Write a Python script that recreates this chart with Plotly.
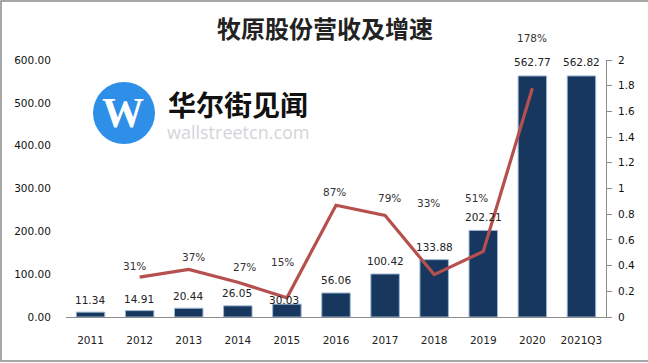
import plotly.graph_objects as go

categories = ["2011", "2012", "2013", "2014", "2015", "2016", "2017", "2018", "2019", "2020", "2021Q3"]
revenue = [11.34, 14.91, 20.44, 26.05, 30.03, 56.06, 100.42, 133.88, 202.21, 562.77, 562.82]
growth = [None, 0.31, 0.37, 0.27, 0.15, 0.87, 0.79, 0.33, 0.51, 1.78, None]
growth_labels = [None, "31%", "37%", "27%", "15%", "87%", "79%", "33%", "51%", "178%", None]

rev_label_dy = [12, 12, 12, 13, 4, 13, 13, 13, 13, 14, 14]
rev_label_dx = [-1, -1, -1, -1, -3, 0, 0, 0, 0, 0, 0]
growth_label_dy = [0, 11, 12, 15, 36, 13, 17, 72, 53, 50, 0]
growth_label_dx = [0, -5, 5, 7, -4, -2, 4, -6, -7, 0, 0]

TEXT = "DejaVu Sans"
CJK = "Noto Sans CJK SC"
L, T, R, B = 66, 60, 606, 317
W, H = R - L, B - T


def px(x):
    return (x - L) / W


def py(y):
    return (B - y) / H


fig = go.Figure()
fig.add_trace(go.Bar(x=categories, y=revenue, width=0.58,
                     marker=dict(color="#17375e", line=dict(color="#9db7d3", width=1)),
                     yaxis="y", showlegend=False))
fig.add_trace(go.Scatter(x=categories, y=growth, mode="lines",
                         line=dict(color="#b5504f", width=3.2), yaxis="y2", showlegend=False))

center = dict(xanchor="center", yanchor="middle", showarrow=False)
annotations = [
    dict(text="<b>牧原股份营收及增速</b>", xref="paper", yref="paper", x=px(325), y=py(27),
         font=dict(family=CJK, size=24, color="#222222"), **center),
    dict(text="<b>华尔街见闻</b>", xref="paper", yref="paper", x=px(238), y=py(104),
         font=dict(family=CJK, size=28, color="#111111"), **center),
    dict(text="wallstreetcn.com", xref="paper", yref="paper", x=px(238), y=py(132),
         font=dict(family="Open Sans", size=18, color="#d4d4d8"), **center),
    dict(text="<b>W</b>", xref="paper", yref="paper", x=px(123), y=py(113),
         font=dict(family="Liberation Serif", size=42, color="#ffffff"), **center),
]
for i, (v, dx, dy) in enumerate(zip(revenue, rev_label_dx, rev_label_dy)):
    annotations.append(dict(text=f"{v:.2f}", x=i, y=v, xref="x", yref="y", xshift=dx, yshift=dy,
                            font=dict(family=TEXT, size=10.5, color="#222222"), **center))
for i, (g, t, dx, dy) in enumerate(zip(growth, growth_labels, growth_label_dx, growth_label_dy)):
    if t is not None:
        annotations.append(dict(text=t, x=i, y=g, xref="x", yref="y2", xshift=dx, yshift=dy,
                                font=dict(family=TEXT, size=10.5, color="#333333"), **center))

shapes = [
    dict(type="rect", xref="paper", yref="paper", x0=px(1), y0=py(1), x1=px(660), y1=py(361),
         line=dict(color="#8a8a8a", width=1.5), fillcolor="rgba(0,0,0,0)", layer="below"),
    dict(type="circle", xref="paper", yref="paper", x0=px(93), y0=py(82), x1=px(155), y1=py(144),
         line=dict(width=0), fillcolor="#2e8fe8", layer="above"),
]

fig.update_layout(
    width=648, height=363, autosize=False,
    margin=dict(l=L, r=648 - R, t=T, b=363 - B),
    paper_bgcolor="white", plot_bgcolor="white",
    bargap=0.42,
    font=dict(family=TEXT, size=10.5, color="#222222"),
    xaxis=dict(type="category", categoryorder="array", categoryarray=categories,
               range=[-0.5, 10.5], showgrid=False, showline=True, linecolor="#8c8c8c", linewidth=1,
               ticks="outside", ticklen=13, tickcolor="rgba(0,0,0,0)",
               tickfont=dict(size=10.5, family=TEXT, color="#222222")),
    yaxis=dict(range=[0, 600], dtick=100, tickformat=".2f", showgrid=False, showline=False,
               zeroline=False, ticks="outside", ticklen=12, tickcolor="rgba(0,0,0,0)",
               tickfont=dict(size=10.5, family=TEXT, color="#111111")),
    yaxis2=dict(range=[0, 2], overlaying="y", side="right", showgrid=False,
                showline=True, linecolor="#8c8c8c", linewidth=1, zeroline=False,
                ticks="outside", ticklen=5, tickcolor="#8c8c8c", ticklabelstandoff=4,
                tickvals=[0, 0.2, 0.4, 0.6, 0.8, 1, 1.2, 1.4, 1.6, 1.8, 2],
                ticktext=["0", "0.2", "0.4", "0.6", "0.8", "1", "1.2", "1.4", "1.6", "1.8", "2"],
                tickfont=dict(size=10.5, family=TEXT, color="#111111")),
    annotations=annotations, shapes=shapes, showlegend=False,
)
fig.write_html("out.html", config={"displayModeBar": False},
               post_script="document.body.style.margin='0';document.body.style.overflow='hidden';")
